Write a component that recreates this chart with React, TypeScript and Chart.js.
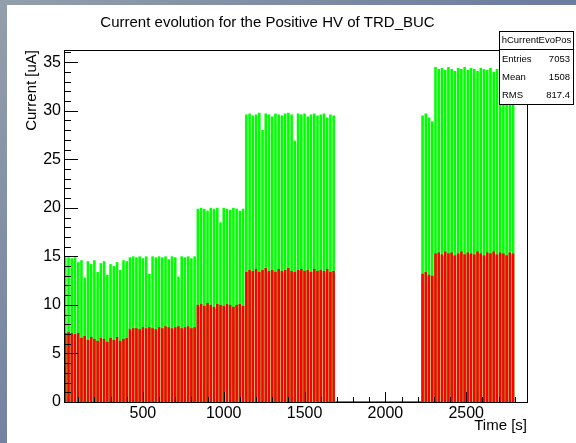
import React, { useEffect, useRef } from 'react';
import { Chart, registerables } from 'chart.js';

Chart.register(...registerables);

const TITLE = 'Current evolution for the Positive HV of TRD_BUC';
const X_TITLE = 'Time [s]';
const Y_TITLE = 'Current [uA]';

const BIN_WIDTH = 20;
const SEG1_START = 20;
const SEG1_GREEN = [
  14.9, 14.9, 14.8, 14.9, 14.4, 14.6, 12.8, 14.5, 14.2, 14.6, 13.4, 14.3, 14.5, 13.1, 14.2, 14.0, 14.4, 13.6, 14.6, 14.5,
  14.9, 15.0, 14.9, 15.0, 14.8, 15.0, 13.2, 15.0, 14.9, 15.0, 14.9, 15.0, 14.7, 15.0, 14.9, 12.9, 15.0, 14.9, 15.0, 14.8, 15.0,
  19.9, 20.0, 19.9, 19.7, 20.0, 19.9, 20.0, 18.5, 20.0, 19.9, 19.8, 20.0, 19.9, 19.7, 19.9,
  29.6, 29.7, 29.5, 29.6, 29.8, 28.0, 29.7, 29.6, 29.4, 29.7, 29.6, 29.5, 29.7, 29.8, 29.6, 26.9, 29.7, 29.6, 29.7, 29.4,
  29.6, 29.7, 29.5, 29.6, 29.7, 29.3, 29.6, 29.5,
];
const SEG1_RED = [
  7.1, 7.2, 7.1, 7.0, 7.1, 6.6, 6.8, 6.4, 6.7, 6.5, 6.3, 6.6, 6.5, 6.2, 6.6, 6.4, 6.7, 6.3, 6.5, 6.6,
  7.5, 7.6, 7.6, 7.5, 7.7, 7.6, 7.7, 7.6, 7.5, 7.7, 7.6, 7.8, 7.7, 7.6, 7.7, 7.8, 7.6, 7.7, 7.8, 7.6, 7.7,
  10.0, 10.1, 9.9, 10.2, 10.0, 9.8, 10.1, 10.0, 9.9, 10.1, 10.0, 9.8, 10.0, 10.1, 9.9,
  13.4, 13.6, 13.5, 13.7, 13.4, 13.6, 13.8, 13.5, 13.6, 13.4, 13.7, 13.5, 13.6, 13.8, 13.5, 13.4, 13.6, 13.7, 13.5, 13.6,
  13.4, 13.7, 13.5, 13.6, 13.5, 13.7, 13.4, 13.5,
];
const SEG2_START = 2230;
const SEG2_GREEN = [
  29.5, 29.7, 29.3, 28.9, 34.5, 34.3, 34.4, 34.2, 34.5, 34.3, 34.1, 34.4, 34.3, 34.5, 34.2, 34.4, 34.3, 34.1, 34.4, 34.3,
  34.2, 34.4, 34.0, 34.3, 34.4, 34.2, 34.3, 34.1, 34.2,
];
const SEG2_RED = [
  13.2, 13.4, 13.1, 13.0, 15.3, 15.4, 15.2, 15.5, 15.3, 15.4, 15.1, 15.3, 15.5, 15.2, 15.4, 15.3, 15.2, 15.5, 15.3, 15.1,
  15.4, 15.3, 15.5, 15.2, 15.4, 15.3, 15.1, 15.4, 15.3,
];
const GAP_TIMES = [1690, 2220];

const X_MIN = 12;
const X_MAX = 2876;
const Y_MIN = 0;
const Y_MAX = 36.25;
const X_TICKS = [500, 1000, 1500, 2000, 2500];
const Y_TICKS = [0, 5, 10, 15, 20, 25, 30, 35];

const STATS_NAME = 'hCurrentEvoPos';
const STATS_LABELS = ['Entries', 'Mean', 'RMS'];
const STATS_VALUES = ['7053', '1508', '817.4'];

const FONT = '"Liberation Sans", Arial, Helvetica, sans-serif';

function toPoints(start: number, values: number[]) {
  return values.map((v, i) => ({ x: start + i * BIN_WIDTH, y: v }));
}

const decor = {
  id: 'decor',
  afterDatasetsDraw(chart: any) {
    const { ctx, chartArea: a, scales } = chart;
    const x = scales.x;
    const y = scales.y;
    ctx.save();
    ctx.strokeStyle = '#000';
    ctx.lineWidth = 1;
    ctx.beginPath();
    for (let v = 0; v <= Y_MAX; v += 1) {
      const py = Math.round(y.getPixelForValue(v)) + 0.5;
      const len = v % 5 === 0 ? 14 : 7;
      ctx.moveTo(a.left, py);
      ctx.lineTo(a.left + len, py);
    }
    for (let v = 100; v < X_MAX; v += 100) {
      if (v < X_MIN) continue;
      const px = Math.round(x.getPixelForValue(v)) + 0.5;
      const len = v % 500 === 0 ? 10 : 5;
      ctx.moveTo(px, a.bottom);
      ctx.lineTo(px, a.bottom - len);
    }
    ctx.stroke();
    ctx.strokeRect(a.left + 0.5, a.top + 0.5, a.right - a.left, a.bottom - a.top);
    ctx.restore();
  },
  afterDraw(chart: any) {
    const { ctx, chartArea: a } = chart;
    ctx.save();
    ctx.fillStyle = '#000';
    // main title
    ctx.font = `15px ${FONT}`;
    ctx.textAlign = 'center';
    ctx.textBaseline = 'alphabetic';
    ctx.fillText(TITLE, 260.5, 22);
    // x title
    ctx.font = `15px ${FONT}`;
    ctx.textAlign = 'right';
    ctx.fillText(X_TITLE, a.right, 425);
    // y title
    ctx.save();
    ctx.translate(29, a.top);
    ctx.rotate(-Math.PI / 2);
    ctx.textAlign = 'right';
    ctx.textBaseline = 'alphabetic';
    ctx.fillText(Y_TITLE, 0, 0);
    ctx.restore();
    // stats box
    const bx = 492, by = 26, bw = 74, bh = 73, sep = 44.5;
    ctx.fillStyle = '#fff';
    ctx.fillRect(bx, by, bw, bh);
    ctx.strokeStyle = '#000';
    ctx.lineWidth = 1;
    ctx.strokeRect(bx + 0.5, by + 0.5, bw, bh);
    ctx.beginPath();
    ctx.moveTo(bx, sep);
    ctx.lineTo(bx + bw, sep);
    ctx.stroke();
    ctx.fillStyle = '#000';
    ctx.font = `9.5px ${FONT}`;
    ctx.textBaseline = 'middle';
    ctx.textAlign = 'center';
    ctx.fillText(STATS_NAME, bx + bw / 2 + 0.5, 35);
    const rows = [54.5, 72.5, 90];
    STATS_LABELS.forEach((l, i) => {
      ctx.textAlign = 'left';
      ctx.fillText(l, bx + 3, rows[i]);
      ctx.textAlign = 'right';
      ctx.fillText(STATS_VALUES[i], bx + bw - 3, rows[i]);
    });
    ctx.restore();
  },
};

export default function App() {
  const ref = useRef<HTMLCanvasElement>(null);
  useEffect(() => {
    if (!ref.current) return;
    const red = [...toPoints(SEG1_START, SEG1_RED), ...toPoints(SEG2_START, SEG2_RED)];
    const green = [...toPoints(SEG1_START, SEG1_GREEN), ...toPoints(SEG2_START, SEG2_GREEN)];
    const gap = GAP_TIMES.map((t) => ({ x: t, y: 0 }));
    const barCommon = {
      type: 'bar' as const,
      grouped: false,
      barPercentage: 1,
      categoryPercentage: 0.8,
      borderWidth: 0,
    };
    const chart = new Chart(ref.current, {
      type: 'bar',
      data: {
        datasets: [
          { ...barCommon, label: 'red', data: red, backgroundColor: '#ff0000' },
          { ...barCommon, label: 'green', data: green, backgroundColor: '#00ff00' },
          {
            type: 'line',
            label: 'gap',
            data: gap,
            borderColor: '#ff0000',
            borderWidth: 1.5,
            pointRadius: 0,
          } as any,
        ],
      },
      options: {
        animation: false,
        responsive: false,
        devicePixelRatio: 1,
        layout: { padding: { left: 0, top: 45, right: 49, bottom: 0 } },
        plugins: {
          legend: { display: false },
          tooltip: { enabled: false },
          title: { display: false },
        },
        scales: {
          x: {
            type: 'linear',
            min: X_MIN,
            max: X_MAX,
            offset: false,
            grid: { display: false, drawTicks: false },
            border: { display: false },
            ticks: {
              color: '#000',
              font: { family: FONT, size: 16 },
              padding: 2,
              maxRotation: 0,
              callback: (v: any) => String(v),
            },
            afterBuildTicks: (s: any) => {
              s.ticks = X_TICKS.map((v) => ({ value: v }));
            },
            afterFit: (s: any) => {
              s.height = 41;
            },
          },
          y: {
            type: 'linear',
            min: Y_MIN,
            max: Y_MAX,
            grid: { display: false, drawTicks: false },
            border: { display: false },
            ticks: {
              color: '#000',
              font: { family: FONT, size: 16 },
              padding: 3,
              callback: (v: any) => String(v),
            },
            afterBuildTicks: (s: any) => {
              s.ticks = Y_TICKS.map((v) => ({ value: v }));
            },
            afterFit: (s: any) => {
              s.width = 57;
            },
          },
        },
      } as any,
      plugins: [decor],
    });
    return () => chart.destroy();
  }, []);

  return (
    <div
      style={{
        position: 'fixed',
        left: 0,
        top: 0,
        width: 576,
        height: 443,
        background: 'linear-gradient(135deg, #939fab 0%, #6f7f9f 50%, #566a98 100%)',
        overflow: 'hidden',
      }}
    >
      <canvas
        ref={ref}
        width={569}
        height={438}
        style={{ position: 'absolute', left: 7, top: 5, width: 569, height: 438, background: '#fff' }}
      />
    </div>
  );
}
